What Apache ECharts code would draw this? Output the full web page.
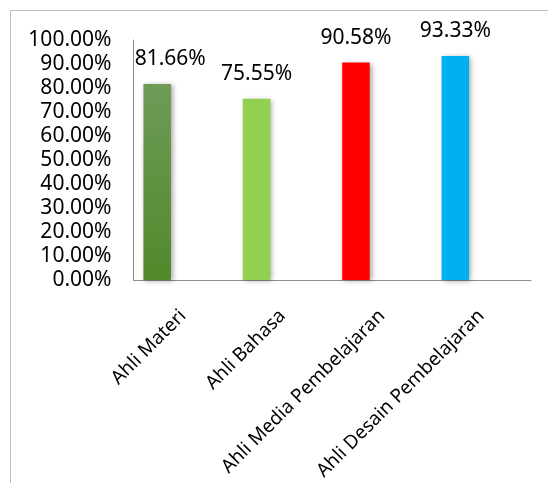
<!DOCTYPE html>
<html>
<head>
<meta charset="utf-8">
<script src="https://cdn.jsdelivr.net/npm/echarts@6/dist/echarts.min.js"></script>
<style>
html,body{margin:0;padding:0;background:#fff;}
#chart{width:548px;height:483px;}
</style>
</head>
<body>
<div id="chart"></div>
<script>
const categories = ['Ahli Materi', 'Ahli Bahasa', 'Ahli Media Pembelajaran', 'Ahli Desain Pembelajaran'];
const scores = [81.66, 75.55, 90.58, 93.33];
const emptySeries = [null, null, null, null];
const yTicks = { min: 0, max: 100, interval: 10 };

const FONT = 'Noto Sans';
const barColors = [
  { type: 'linear', x: 0, y: 0, x2: 0, y2: 1, colorStops: [{ offset: 0, color: '#6e9b57' }, { offset: 1, color: '#52892b' }] },
  '#92d050',
  '#ff0000',
  '#00b0f0'
];

const chart = echarts.init(document.getElementById('chart'), null, { renderer: 'canvas' });
chart.setOption({
  animation: false,
  backgroundColor: '#ffffff',
  graphic: [{
    type: 'rect',
    shape: { x: 10.5, y: 10.5, width: 560, height: 500 },
    style: { fill: 'none', stroke: '#bcbcbc', lineWidth: 1 },
    silent: true,
    z: -1
  }],
  grid: { left: 133.5, right: 17, top: 40, bottom: 202, containLabel: false },
  xAxis: {
    type: 'category',
    data: categories,
    axisLine: { show: true, lineStyle: { color: '#8c8c8c', width: 1 } },
    axisTick: { show: false },
    axisLabel: { rotate: 45, margin: 33, verticalAlign: 'middle', padding: [0, 0, 20, 0], color: '#000', fontFamily: FONT, fontSize: 19, interval: 0 }
  },
  yAxis: {
    type: 'value',
    min: yTicks.min, max: yTicks.max, interval: yTicks.interval,
    axisLine: { show: true, lineStyle: { color: '#8c8c8c', width: 1 } },
    axisTick: { show: false },
    splitLine: { show: false },
    axisLabel: { margin: 22, color: '#000', fontFamily: FONT, fontSize: 21, formatter: v => v.toFixed(2) + '%' }
  },
  series: [
    {
      type: 'bar',
      barWidth: 27.5,
      barGap: '89%',
      data: scores.map((v, i) => ({
        value: v,
        itemStyle: { color: barColors[i] },
        label: i === 0 ? { offset: [13, 0] } : undefined
      })),
      itemStyle: { shadowBlur: 5, shadowOffsetX: 2, shadowOffsetY: 1, shadowColor: 'rgba(0,0,0,0.35)' },
      label: {
        show: true, position: 'top', distance: 14,
        color: '#000', fontFamily: FONT, fontSize: 21,
        formatter: p => p.value.toFixed(2) + '%'
      }
    },
    {
      type: 'bar',
      barWidth: 27.5,
      data: emptySeries
    }
  ]
});
</script>
</body>
</html>
